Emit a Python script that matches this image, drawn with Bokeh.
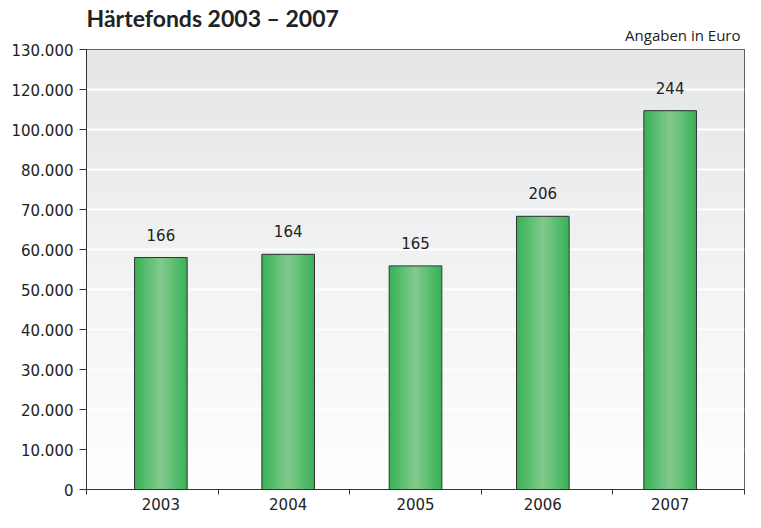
import numpy as np
from bokeh.plotting import figure
from bokeh.models import Range1d, FixedTicker, ColumnDataSource, Title
from bokeh.core.properties import value
from bokeh.embed import file_html
from bokeh.resources import INLINE

# ---- data ----
years = ["2003", "2004", "2005", "2006", "2007"]
amounts = [58000, 58800, 55900, 68300, 94700]          # bar heights (axis position units)
counts = ["166", "164", "165", "206", "244"]           # labels above bars
y_ticks = [0, 10000, 20000, 30000, 40000, 50000, 60000, 70000, 80000, 90000, 100000, 110000]
y_tick_labels = ["0", "10.000", "20.000", "30.000", "40.000", "50.000", "60.000",
                 "70.000", "80.000", "100.000", "120.000", "130.000"]

title_text = "Härtefonds  2003 – 2007"
unit_text = "Angaben in Euro"

ymax = y_ticks[-1]
n = len(years)
spacing = 0.9675  # bar pitch relative to the category pitch (layout)
mid = (n - 1) / 2
xc = [n / 2 + (i - mid) * spacing for i in range(n)]

p = figure(width=745, height=512, output_backend="svg", toolbar_location=None,
           title_location=None,
           x_range=Range1d(0, n), y_range=Range1d(0, ymax),
           min_border_left=86, min_border_right=1, min_border_top=49, min_border_bottom=0)

# texts above the frame: unit note (nearest frame) then main title
p.add_layout(Title(text=unit_text, align="right", text_font="Open Sans",
                   text_font_size="15px", text_font_style="normal", text_color="#222222",
                   standoff=9, offset=4), "above")
p.add_layout(Title(text=title_text, align="left", text_font="Lato",
                   text_font_size="23px", text_font_style="bold", text_color="#222222",
                   standoff=-27), "above")

# background gradient
H = 256
t = np.linspace(0, 1, H)[:, None]   # 0 bottom -> 1 top
top = np.array([229, 230, 232]); bot = np.array([255, 255, 255])
rgb = (bot + (top - bot) * t).astype(np.uint32)
img = np.empty((H, 1), dtype=np.uint32)
view = img.view(dtype=np.uint8).reshape((H, 1, 4))
view[:, :, 0] = rgb[:, 0:1]; view[:, :, 1] = rgb[:, 1:2]; view[:, :, 2] = rgb[:, 2:3]; view[:, :, 3] = 255
bg = p.image_rgba(image=[img], x=0, y=0, dw=n, dh=ymax)
bg.level = "image"

p.background_fill_color = "white"
p.border_fill_color = "white"
p.outline_line_color = "#333333"
p.outline_line_width = 1

# grid
p.xgrid.visible = False
p.ygrid.ticker = FixedTicker(ticks=y_ticks)
p.ygrid.grid_line_color = "white"
p.ygrid.grid_line_width = 2

# bars with horizontal gradient (stacked narrowing layers)
src = ColumnDataSource(dict(x=xc, top=amounts))
edge = np.array([58, 178, 88]); center = np.array([128, 201, 140])
N = 14
bw = 0.40
for k in range(N):
    f = k / (N - 1)
    c = edge + (center - edge) * f
    col = "#%02x%02x%02x" % tuple(int(round(v)) for v in c)
    w = bw * (1 - k / N)
    p.vbar(x="x", top="top", width=w, bottom=0, source=src, fill_color=col,
           line_color=None)
# outline on top
p.vbar(x="x", top="top", width=bw, bottom=0, source=src, fill_color=None,
       line_color="#333333", line_width=1)

# value labels
p.text(x=xc, y=amounts, text=counts, text_align="center", text_baseline="middle",
       y_offset=-23, text_font=value("DejaVu Sans"), text_font_size="15px",
       text_color="#222222")

# axes
p.xaxis.ticker = FixedTicker(ticks=xc, minor_ticks=list(range(n + 1)))
p.xaxis.major_label_overrides = {x: y for x, y in zip(xc, years)}
p.xaxis.major_tick_out = 0
p.xaxis.major_tick_in = 0
p.xaxis.minor_tick_out = 5
p.xaxis.minor_tick_in = 0
p.xaxis.minor_tick_line_color = "#333333"
p.xaxis.major_label_standoff = 3
p.xaxis.major_label_text_font = "DejaVu Sans"
p.xaxis.major_label_text_font_size = "15px"
p.xaxis.major_label_text_color = "#222222"
p.xaxis.axis_line_color = "#333333"

p.yaxis.ticker = FixedTicker(ticks=y_ticks)
p.yaxis.major_label_overrides = {k: v for k, v in zip(y_ticks, y_tick_labels)}
p.yaxis.major_tick_out = 7
p.yaxis.major_tick_in = 0
p.yaxis.minor_tick_line_color = None
p.yaxis.major_tick_line_color = "#333333"
p.yaxis.major_label_standoff = 6
p.yaxis.major_label_text_font = "DejaVu Sans"
p.yaxis.major_label_text_font_size = "15px"
p.yaxis.major_label_text_color = "#222222"
p.yaxis.axis_line_color = "#333333"

open("out.html", "w").write(file_html(p, INLINE))
